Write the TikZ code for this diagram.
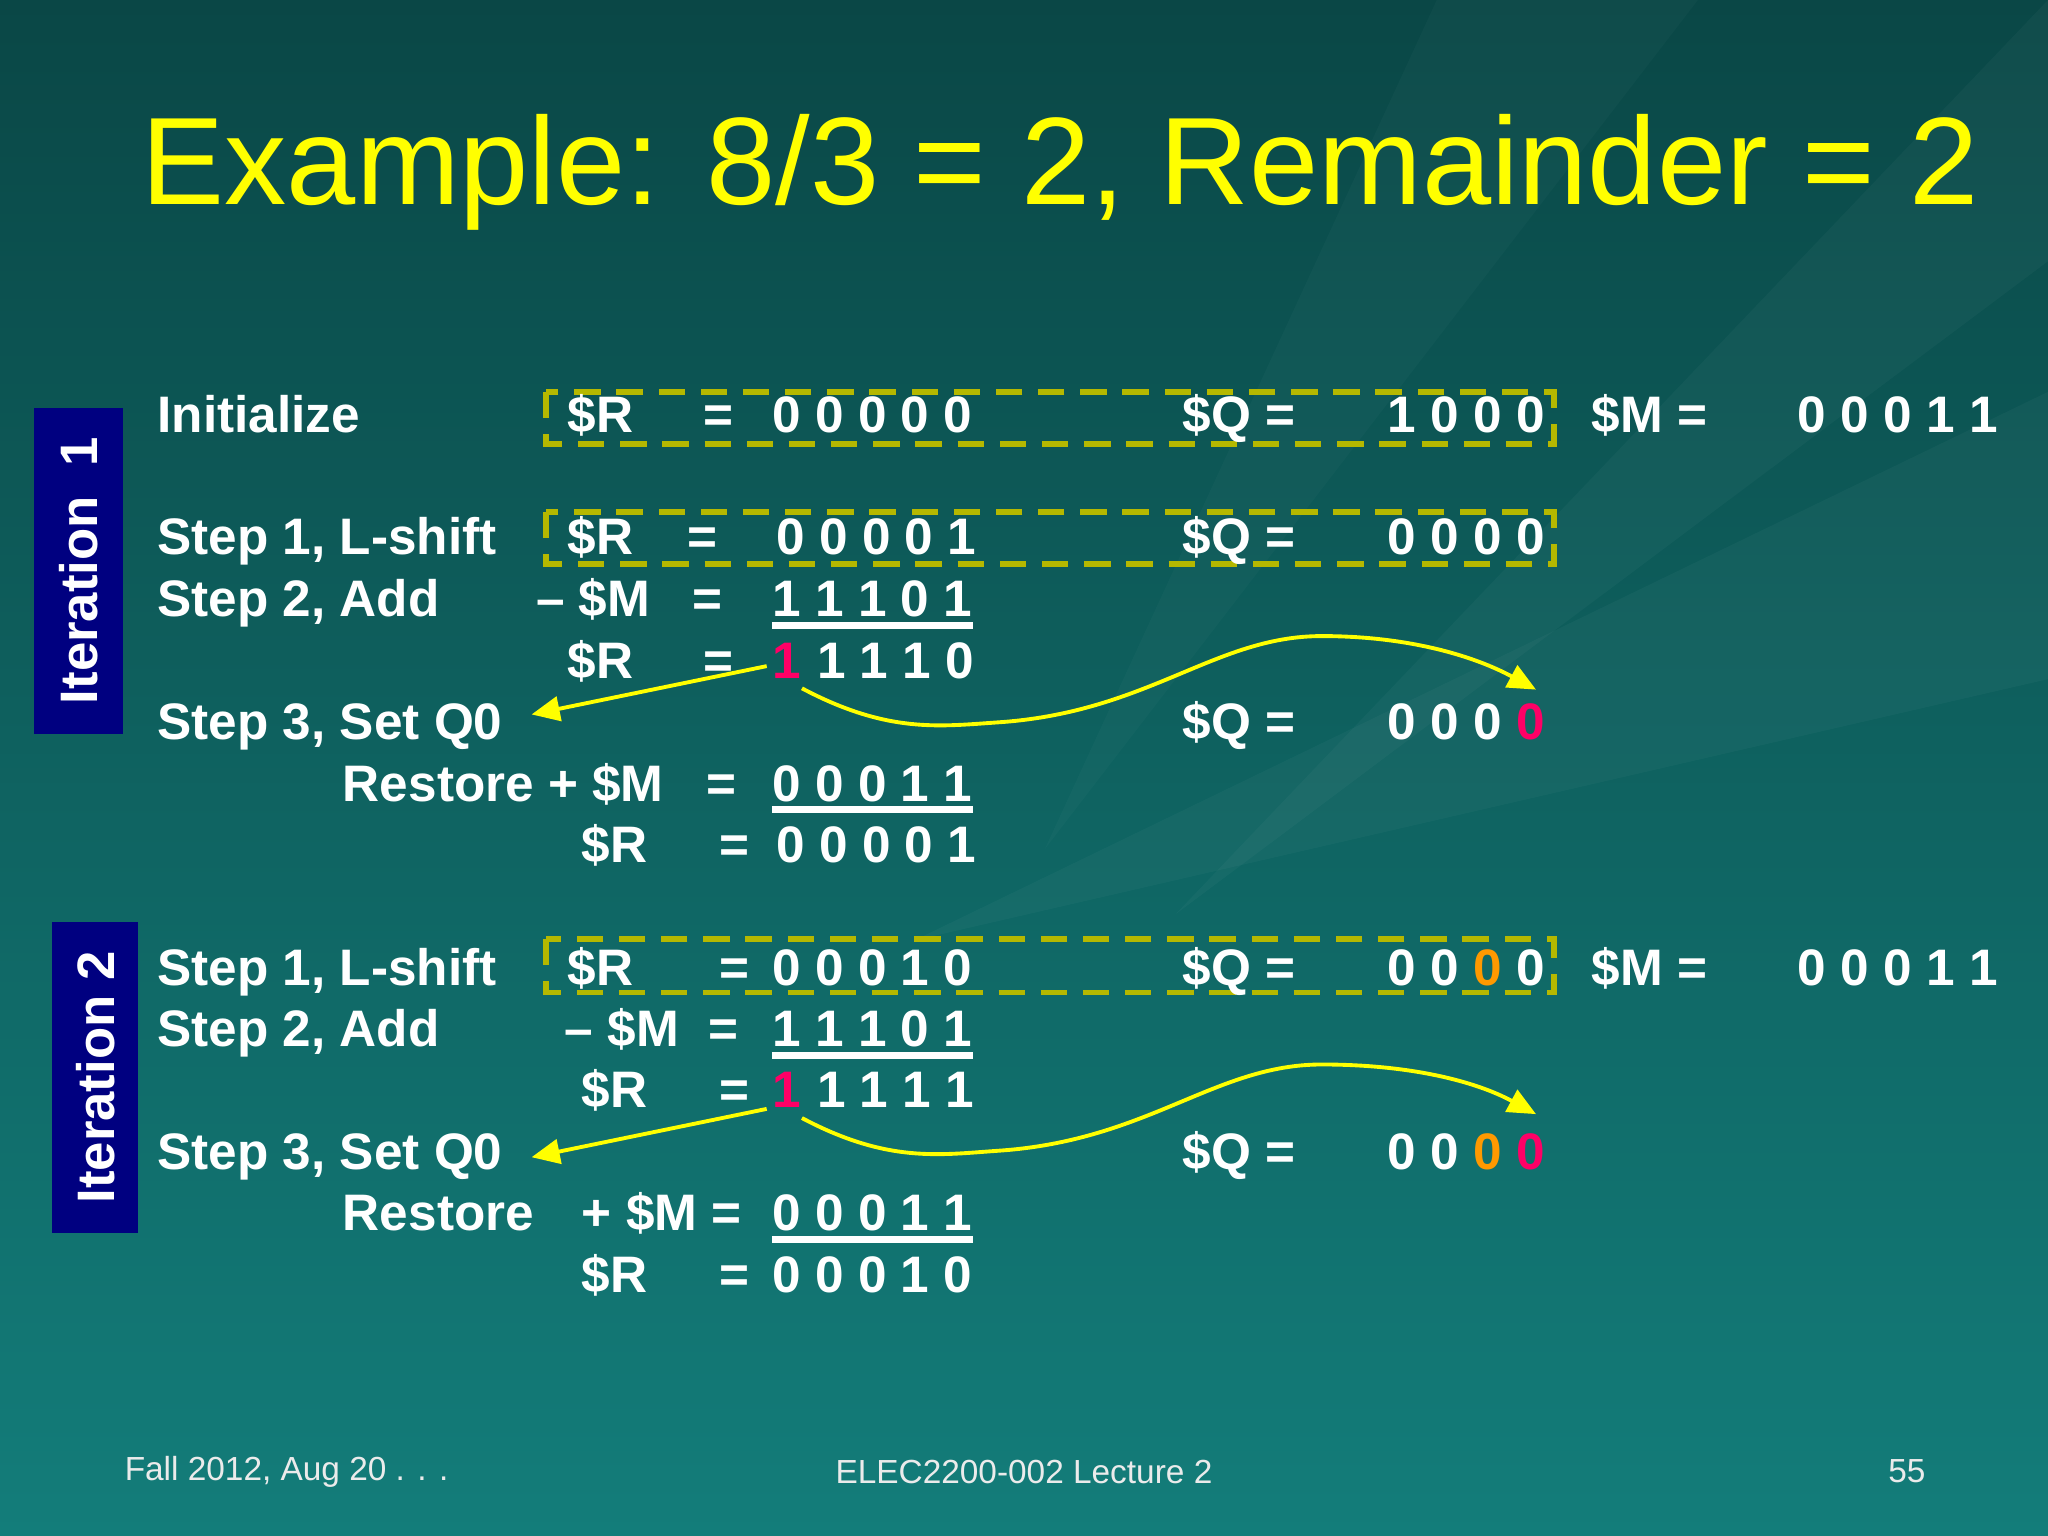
\documentclass[tikz,border=0pt]{standalone}
\usepackage{fontspec}
\setmainfont{Liberation Sans}
\usetikzlibrary{arrows.meta}
\definecolor{bgtop}{HTML}{0A4746}
\definecolor{bgbot}{HTML}{137D7A}
\definecolor{boxy}{HTML}{B5B800}
\definecolor{titley}{HTML}{FFFF00}
\definecolor{navy}{HTML}{000080}
\definecolor{redq}{HTML}{FF0066}
\definecolor{orq}{HTML}{FF9900}
\tikzset{
 txt/.style={anchor=base west,yshift=-4.2pt,inner sep=0pt,text=white,font=\fontsize{14.6}{17}\selectfont\bfseries},
 dbox/.style={draw=boxy,line width=1.6pt,dash pattern=on 7.5pt off 4.5pt},
 arr/.style={draw=titley,line width=1.1pt,-{Triangle[length=8pt,width=7pt]}},
 foot/.style={text=white!92!black,font=\fontsize{9.5}{11}\selectfont,inner sep=0pt}
}
\newcommand{\T}[4]{\node[txt] (#1) at (#2,#3) {#4};}
\newcommand{\U}[4]{\node[txt] (#1) at (#2,#3) {#4};\draw[white,line width=2pt] ([yshift=-2.5pt]#1.base west) -- ([yshift=-2.5pt]#1.base east);}
\begin{document}
\begin{tikzpicture}[x=0.013061cm,y=-0.013061cm]
\useasboundingbox (0,0) rectangle (1568,1176);
\shade[top color=bgtop,bottom color=bgbot] (0,0) rectangle (1568,1176);
\fill[white,opacity=0.03] (1568,0) -- (900,700) -- (1568,200) -- cycle;
\fill[white,opacity=0.03] (1568,300) -- (700,720) -- (1568,520) -- cycle;
\fill[white,opacity=0.025] (1100,0) -- (800,650) -- (1300,0) -- cycle;
% title
\node[anchor=west,inner sep=0pt,text=titley,font=\fontsize{35.4}{40}\selectfont] (title) at (108,132) {Example: 8/3 = 2, Remainder = 2};
% iteration boxes
\fill[navy] (26,312) rectangle (94,562);
\node[rotate=90,text=white,font=\fontsize{15}{18}\selectfont\bfseries] (it1) at (60,437) {Iteration\ \ 1};
\fill[navy] (40,706) rectangle (106,944);
\node[rotate=90,text=white,font=\fontsize{15}{18}\selectfont\bfseries] (it2) at (73,825) {Iteration 2};
% dashed boxes
\draw[dbox] (418,300) rectangle (1190,340);
\draw[dbox] (418,392) rectangle (1190,432);
\draw[dbox] (418,719) rectangle (1190,760);
% row 320
\T{a1}{120}{320}{Initialize}
\T{a2}{434}{320}{\$R}
\T{a3}{538}{320}{=}
\T{a4}{591}{320}{0 0 0 0 0}
\T{a5}{905}{320}{\$Q =}
\T{a6}{1062}{320}{1 0 0 0}
\T{a7}{1218}{320}{\$M =}
\T{a8}{1376}{320}{0 0 0 1 1}
% row 413
\T{b1}{120}{413}{Step 1, L-shift}
\T{b2}{434}{413}{\$R}
\T{b3}{526}{413}{=}
\T{b4}{594}{413}{0 0 0 0 1}
\T{b5}{905}{413}{\$Q =}
\T{b6}{1062}{413}{0 0 0 0}
% row 461
\T{c1}{120}{461}{Step 2, Add}
\T{c2}{410}{461}{– \$M}
\T{c3}{530}{461}{=}
\U{c4}{591}{461}{1 1 1 0 1}
% row 508
\T{d2}{434}{508}{\$R}
\T{d3}{538}{508}{=}
\node[txt,text=redq] (d4) at (591,508) {1};
\T{d5}{625}{508}{1 1 1 0}
% row 555
\T{e1}{120}{555}{Step 3, Set Q0}
\T{e5}{905}{555}{\$Q =}
\node[txt] (e6) at (1062,555) {0 0 0 \textcolor{redq}{0}};
% row 602
\T{f1}{262}{602}{Restore + \$M}
\T{f3}{540}{602}{=}
\U{f4}{591}{602}{0 0 0 1 1}
% row 649
\T{g2}{445}{649}{\$R}
\T{g3}{550}{649}{=}
\T{g4}{594}{649}{0 0 0 0 1}
% iteration 2
\T{h1}{120}{743}{Step 1, L-shift}
\T{h2}{434}{743}{\$R}
\T{h3}{550}{743}{=}
\T{h4}{591}{743}{0 0 0 1 0}
\T{h5}{905}{743}{\$Q =}
\node[txt] (h6) at (1062,743) {0 0 \textcolor{orq}{0} 0};
\T{h7}{1218}{743}{\$M =}
\T{h8}{1376}{743}{0 0 0 1 1}
\T{i1}{120}{790}{Step 2, Add}
\T{i2}{432}{790}{– \$M}
\T{i3}{542}{790}{=}
\U{i4}{591}{790}{1 1 1 0 1}
\T{j2}{445}{837}{\$R}
\T{j3}{550}{837}{=}
\node[txt,text=redq] (j4) at (591,837) {1};
\T{j5}{625}{837}{1 1 1 1}
\T{k1}{120}{884}{Step 3, Set Q0}
\T{k5}{905}{884}{\$Q =}
\node[txt] (k6) at (1062,884) {0 0 \textcolor{orq}{0} \textcolor{redq}{0}};
\T{l1}{262}{931}{Restore}
\T{l2}{445}{931}{+ \$M =}
\U{l4}{591}{931}{0 0 0 1 1}
\T{m2}{445}{978}{\$R}
\T{m3}{550}{978}{=}
\T{m4}{591}{978}{0 0 0 1 0}
% arrows iteration 1
\coordinate (p1) at (587,510);
\coordinate (p2) at (407,547);
\coordinate (q1) at (614,527);
\coordinate (q2) at (1176,528);
\draw[arr] (p1) -- (p2);
\draw[arr] (q1) .. controls (680,562) and (720,556) .. (765,553) .. controls (880,545) and (930,487) .. (1012,487) .. controls (1080,487) and (1130,503) .. (q2);
% arrows iteration 2
\coordinate (r1) at (587,849);
\coordinate (r2) at (407,886);
\coordinate (s1) at (614,856);
\coordinate (s2) at (1176,853);
\draw[arr] (r1) -- (r2);
\draw[arr] (s1) .. controls (680,891) and (720,884) .. (765,881) .. controls (880,873) and (930,815) .. (1012,815) .. controls (1080,815) and (1130,828) .. (s2);
% footer
\node[foot,anchor=west] (f_l) at (95,1127) {Fall 2012, Aug 20 . . .};
\node[foot] (f_c) at (784,1127) {ELEC2200-002 Lecture 2};
\node[foot] (f_r) at (1460,1126) {55};
\end{tikzpicture}
\end{document}
